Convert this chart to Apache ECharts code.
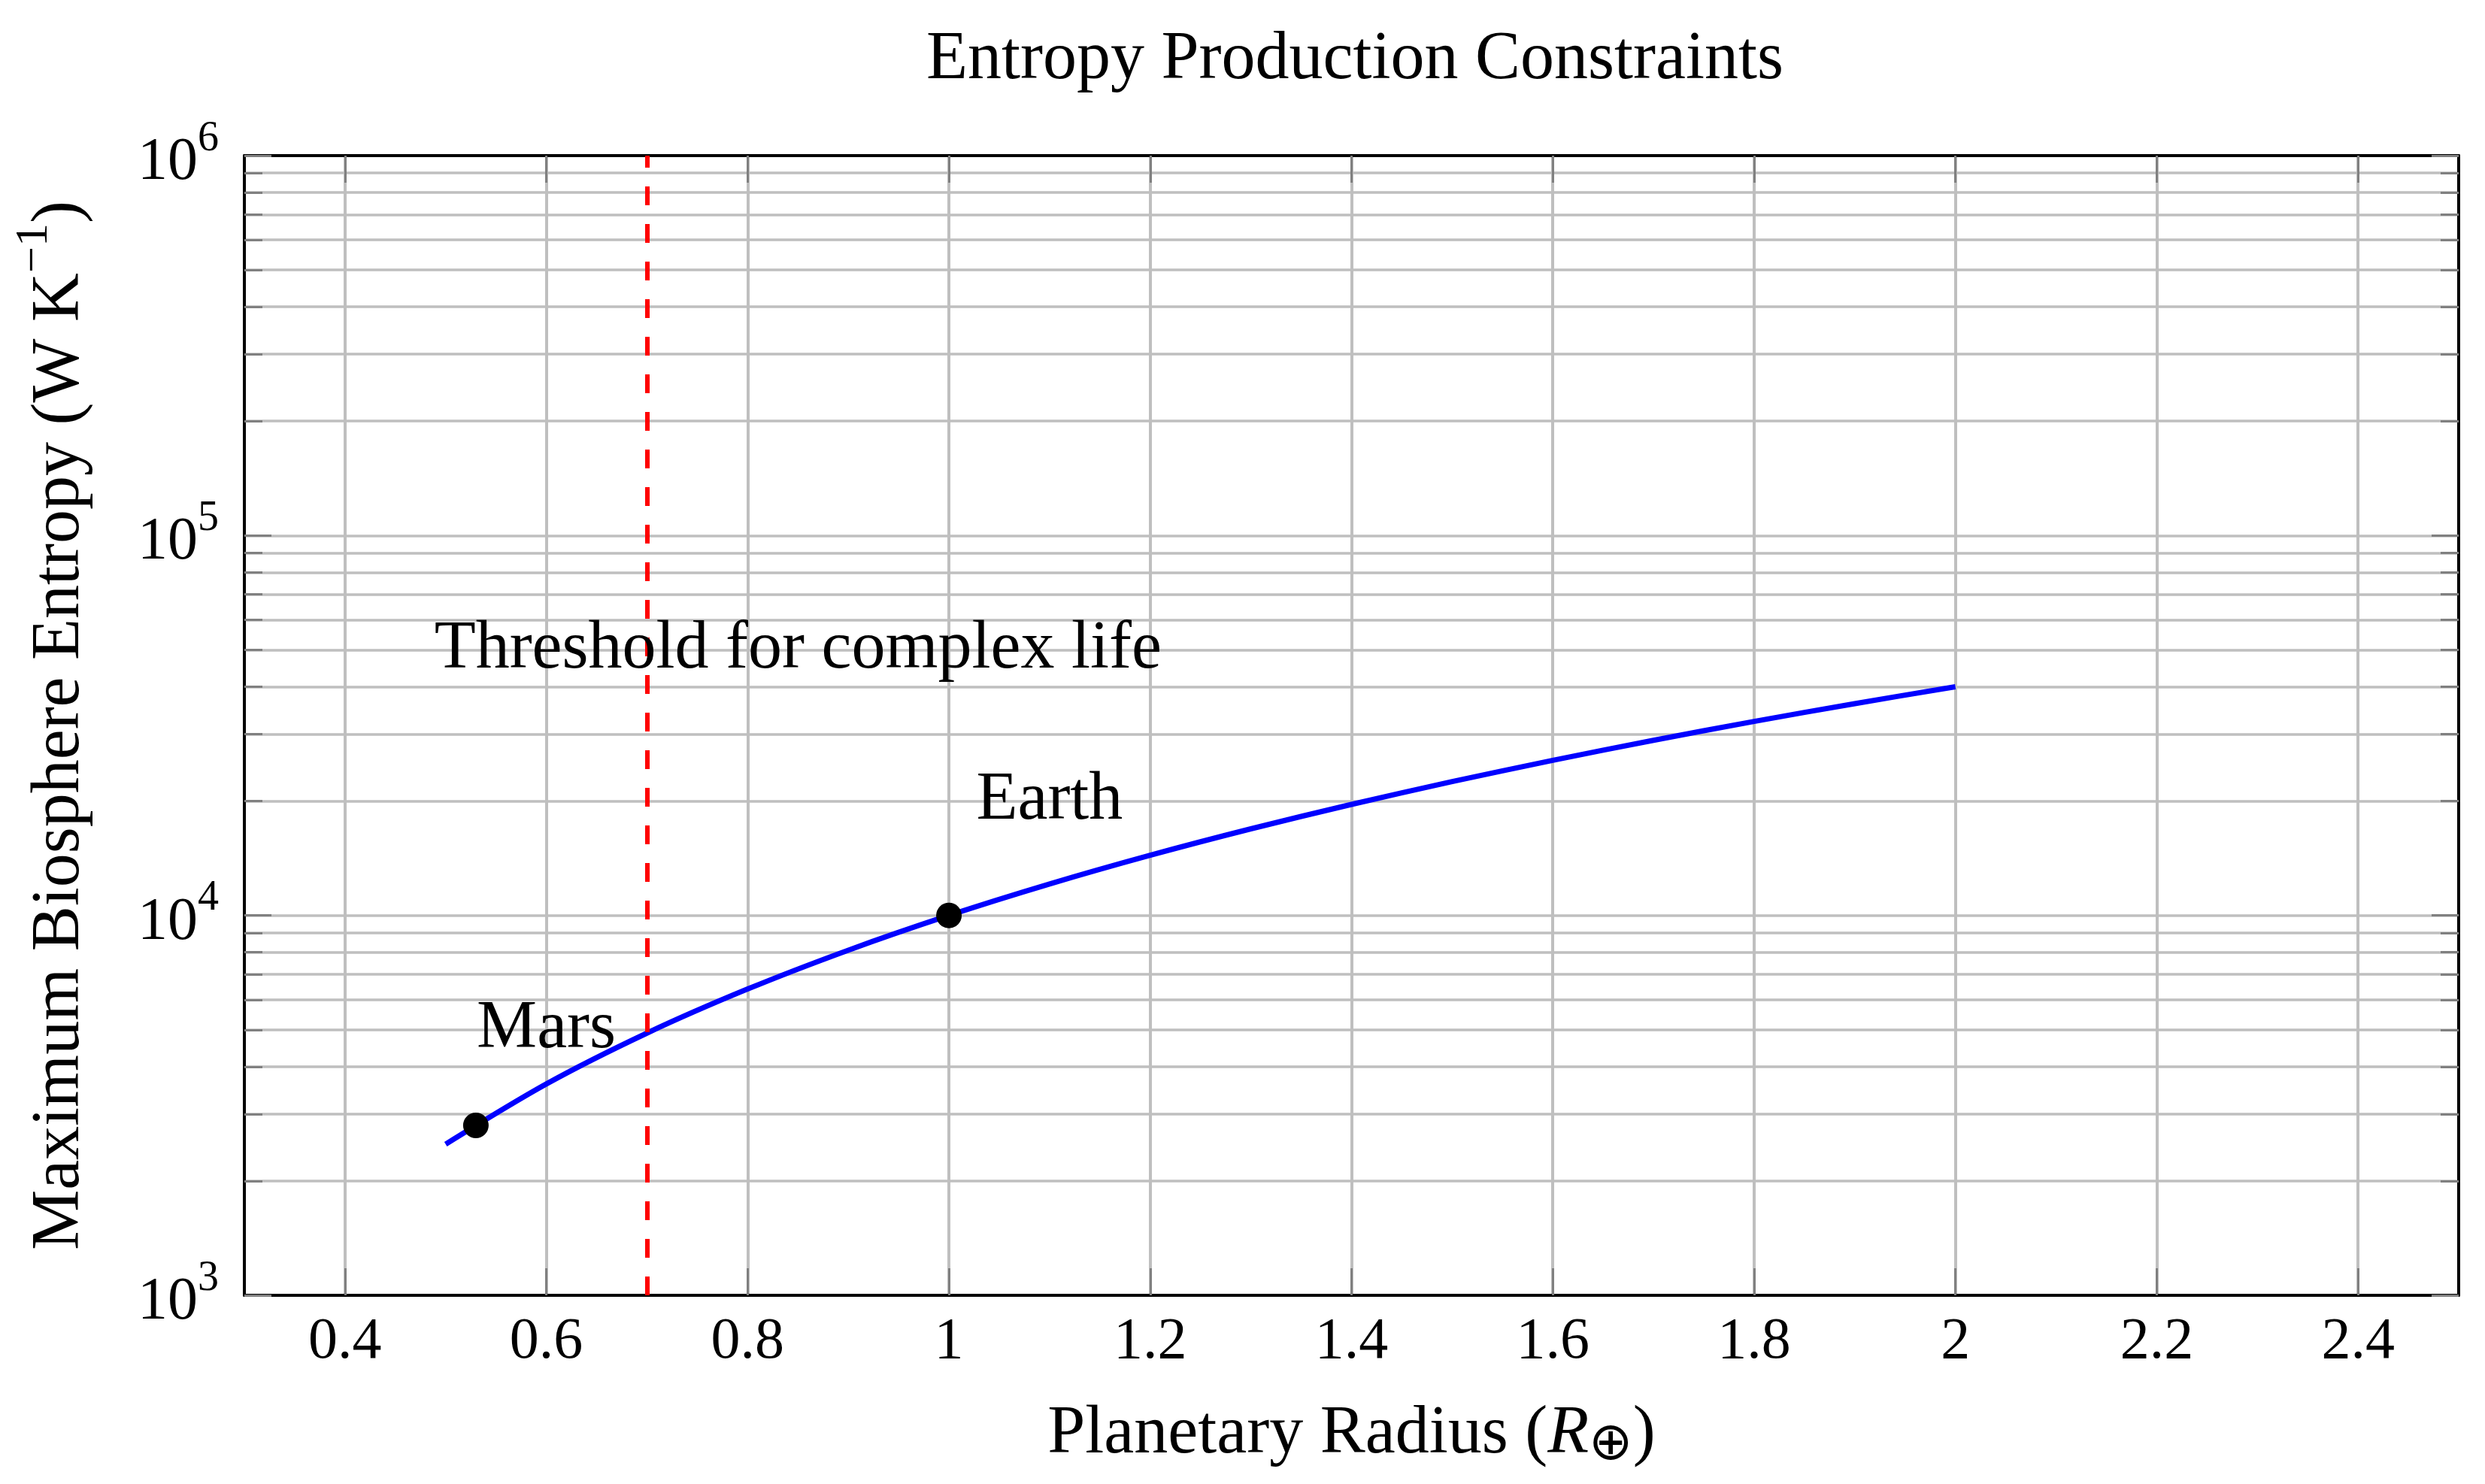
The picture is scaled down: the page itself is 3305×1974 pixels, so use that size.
<!DOCTYPE html>
<html>
<head>
<meta charset="utf-8">
<title>Entropy Production Constraints</title>
<script src="https://cdn.jsdelivr.net/npm/echarts@6/dist/echarts.min.js"></script>
<style>
    html, body { margin: 0; padding: 0; background: #fff; overflow: hidden; }
    #main { width: 100vw; height: 100vh; }
</style>
</head>
<body>
<div id="main"></div>
<script>
// curve (planetary radius -> max entropy)
var radiusSamples = [0.5, 0.6, 0.7, 0.8, 0.9, 1.0, 1.1, 1.2, 1.3, 1.4, 1.5, 1.6, 1.7, 1.8, 1.9, 2.0];
var entropySamples = [2500, 3600, 4900, 6400, 8100, 10000, 12100, 14400, 16900, 19600, 22500, 25600, 28900, 32400, 36100, 40000];

// marked planets
var planetNames = ['Mars', 'Earth'];
var planetRadius = [0.53, 1.0];
var planetEntropy = [2800, 10000];

// text notes on the plot
var noteTexts = ['Mars', 'Earth', 'Threshold for complex life'];
var noteX = [0.6, 1.1, 0.85];
var noteY = [5000, 20000, 50000];

var thresholdRadius = 0.7;

// ticks
var xTicks = [0.4, 0.6, 0.8, 1.0, 1.2, 1.4, 1.6, 1.8, 2.0, 2.2, 2.4];
var xTickLabels = ['0.4', '0.6', '0.8', '1', '1.2', '1.4', '1.6', '1.8', '2', '2.2', '2.4'];
var yTicks = [1000, 10000, 100000, 1000000];
var yTickExp = ['3', '4', '5', '6'];

var FONT = "'Liberation Serif', 'DejaVu Serif', serif";
var GRID_COLOR = '#bfbfbf';
var TICK_COLOR = '#808080';

var curveData = radiusSamples.map(function (r, i) { return [r, entropySamples[i]]; });
var planetData = planetNames.map(function (n, i) { return { name: n, value: [planetRadius[i], planetEntropy[i]] }; });
var noteData = noteTexts.map(function (t, i) { return { name: t, value: [noteX[i], noteY[i]] }; });

var myChart = echarts.init(document.getElementById('main'));

var xAxisBase = {
    type: 'value',
    min: 0.3,
    max: 2.5,
    axisLine: { show: true, onZero: false, lineStyle: { color: '#000', width: 4 } },
    axisTick: { show: true, inside: true, length: 36, customValues: xTicks, lineStyle: { color: TICK_COLOR, width: 3 } }
};

var yAxisBase = {
    type: 'log',
    logBase: 10,
    min: 1000,
    max: 1000000,
    axisLine: { show: true, onZero: false, lineStyle: { color: '#000', width: 4 } },
    axisTick: { show: true, inside: true, length: 36, lineStyle: { color: TICK_COLOR, width: 3 } },
    minorTick: { show: true, splitNumber: 9, length: 24, lineStyle: { color: TICK_COLOR, width: 3 } }
};

var option = {
    animation: false,
    backgroundColor: '#fff',
    title: {
        text: 'Entropy Production Constraints',
        left: 1797,
        top: 30,
        textAlign: 'center',
        textStyle: { fontFamily: FONT, fontSize: 90, fontWeight: 'normal', color: '#000' }
    },
    grid: {
        left: 325,
        top: 207,
        right: 35,
        bottom: 251,
        containLabel: false,
        outerBoundsMode: 'none'
    },
    xAxis: [
        Object.assign({}, xAxisBase, {
            position: 'bottom',
            name: '{n|Planetary Radius (}{i|R}{sub|⊕}{n|)}',
            nameLocation: 'middle',
            nameGap: 130,
            nameTextStyle: {
                fontFamily: FONT,
                color: '#000',
                rich: {
                    n: { fontFamily: FONT, fontSize: 90, lineHeight: 110, color: '#000' },
                    i: { fontFamily: FONT, fontSize: 90, lineHeight: 110, fontStyle: 'italic', color: '#000' },
                    sub: { fontFamily: "'DejaVu Sans', sans-serif", fontSize: 70, lineHeight: 80, padding: [30, 0, 0, 0], color: '#000' }
                }
            },
            axisLabel: {
                show: true,
                customValues: xTicks,
                margin: 24,
                fontFamily: FONT,
                fontSize: 78,
                color: '#000',
                formatter: function (v) {
                    var idx = xTicks.findIndex(function (t) { return Math.abs(t - v) < 1e-6; });
                    return idx >= 0 ? xTickLabels[idx] : '';
                }
            },
            splitLine: { show: true, lineStyle: { color: GRID_COLOR, width: 4 } }
        }),
        Object.assign({}, xAxisBase, {
            position: 'top',
            axisLabel: { show: false, customValues: xTicks },
            splitLine: { show: false }
        })
    ],
    yAxis: [
        Object.assign({}, yAxisBase, {
            position: 'left',
            name: '{n|Maximum Biosphere Entropy (W K}{sup|−1}{n|)}',
            nameLocation: 'middle',
            nameRotate: 90,
            nameGap: 200,
            nameTextStyle: {
                fontFamily: FONT,
                color: '#000',
                rich: {
                    n: { fontFamily: FONT, fontSize: 90, lineHeight: 110, verticalAlign: 'bottom', color: '#000' },
                    sup: { fontFamily: FONT, fontSize: 62, lineHeight: 62, verticalAlign: 'top', color: '#000' }
                }
            },
            axisLabel: {
                show: true,
                margin: 34,
                color: '#000',
                formatter: function (v) {
                    var idx = yTicks.findIndex(function (t) { return Math.abs(t - v) / t < 1e-6; });
                    return idx >= 0 ? '{b|10}{s|' + yTickExp[idx] + '}' : '';
                },
                rich: {
                    b: { fontFamily: FONT, fontSize: 80, lineHeight: 100, verticalAlign: 'bottom', color: '#000' },
                    s: { fontFamily: FONT, fontSize: 56, lineHeight: 56, verticalAlign: 'top', color: '#000' }
                }
            },
            splitLine: { show: true, lineStyle: { color: GRID_COLOR, width: 3.5 } },
            minorSplitLine: { show: true, lineStyle: { color: GRID_COLOR, width: 3.5 } }
        }),
        Object.assign({}, yAxisBase, {
            position: 'right',
            axisLabel: { show: false },
            splitLine: { show: false },
            minorSplitLine: { show: false }
        })
    ],
    series: [
        {
            name: 'Max entropy',
            type: 'line',
            data: curveData,
            showSymbol: false,
            symbol: 'none',
            smooth: 0.3,
            lineStyle: { color: '#0000ff', width: 7 },
            z: 3,
            markLine: {
                silent: true,
                symbol: ['none', 'none'],
                label: { show: false },
                lineStyle: { color: '#ff0000', width: 6, type: [25, 25] },
                data: [
                    [{ coord: [thresholdRadius, yTicks[0]] }, { coord: [thresholdRadius, yTicks[yTicks.length - 1]] }]
                ]
            }
        },
        {
            name: 'Planets',
            type: 'scatter',
            data: planetData,
            symbol: 'circle',
            symbolSize: 34,
            itemStyle: { color: '#000', opacity: 1 },
            z: 4
        },
        {
            name: 'Notes',
            type: 'scatter',
            data: noteData,
            symbolSize: 0,
            itemStyle: { color: '#000' },
            silent: true,
            z: 5,
            label: {
                show: true,
                position: 'inside',
                formatter: '{b}',
                fontFamily: FONT,
                fontSize: 90,
                color: '#000',
                textBorderWidth: 0,
                opacity: 1
            }
        }
    ]
};

myChart.setOption(option);
window.addEventListener('resize', function () { myChart.resize(); });
</script>
</body>
</html>
